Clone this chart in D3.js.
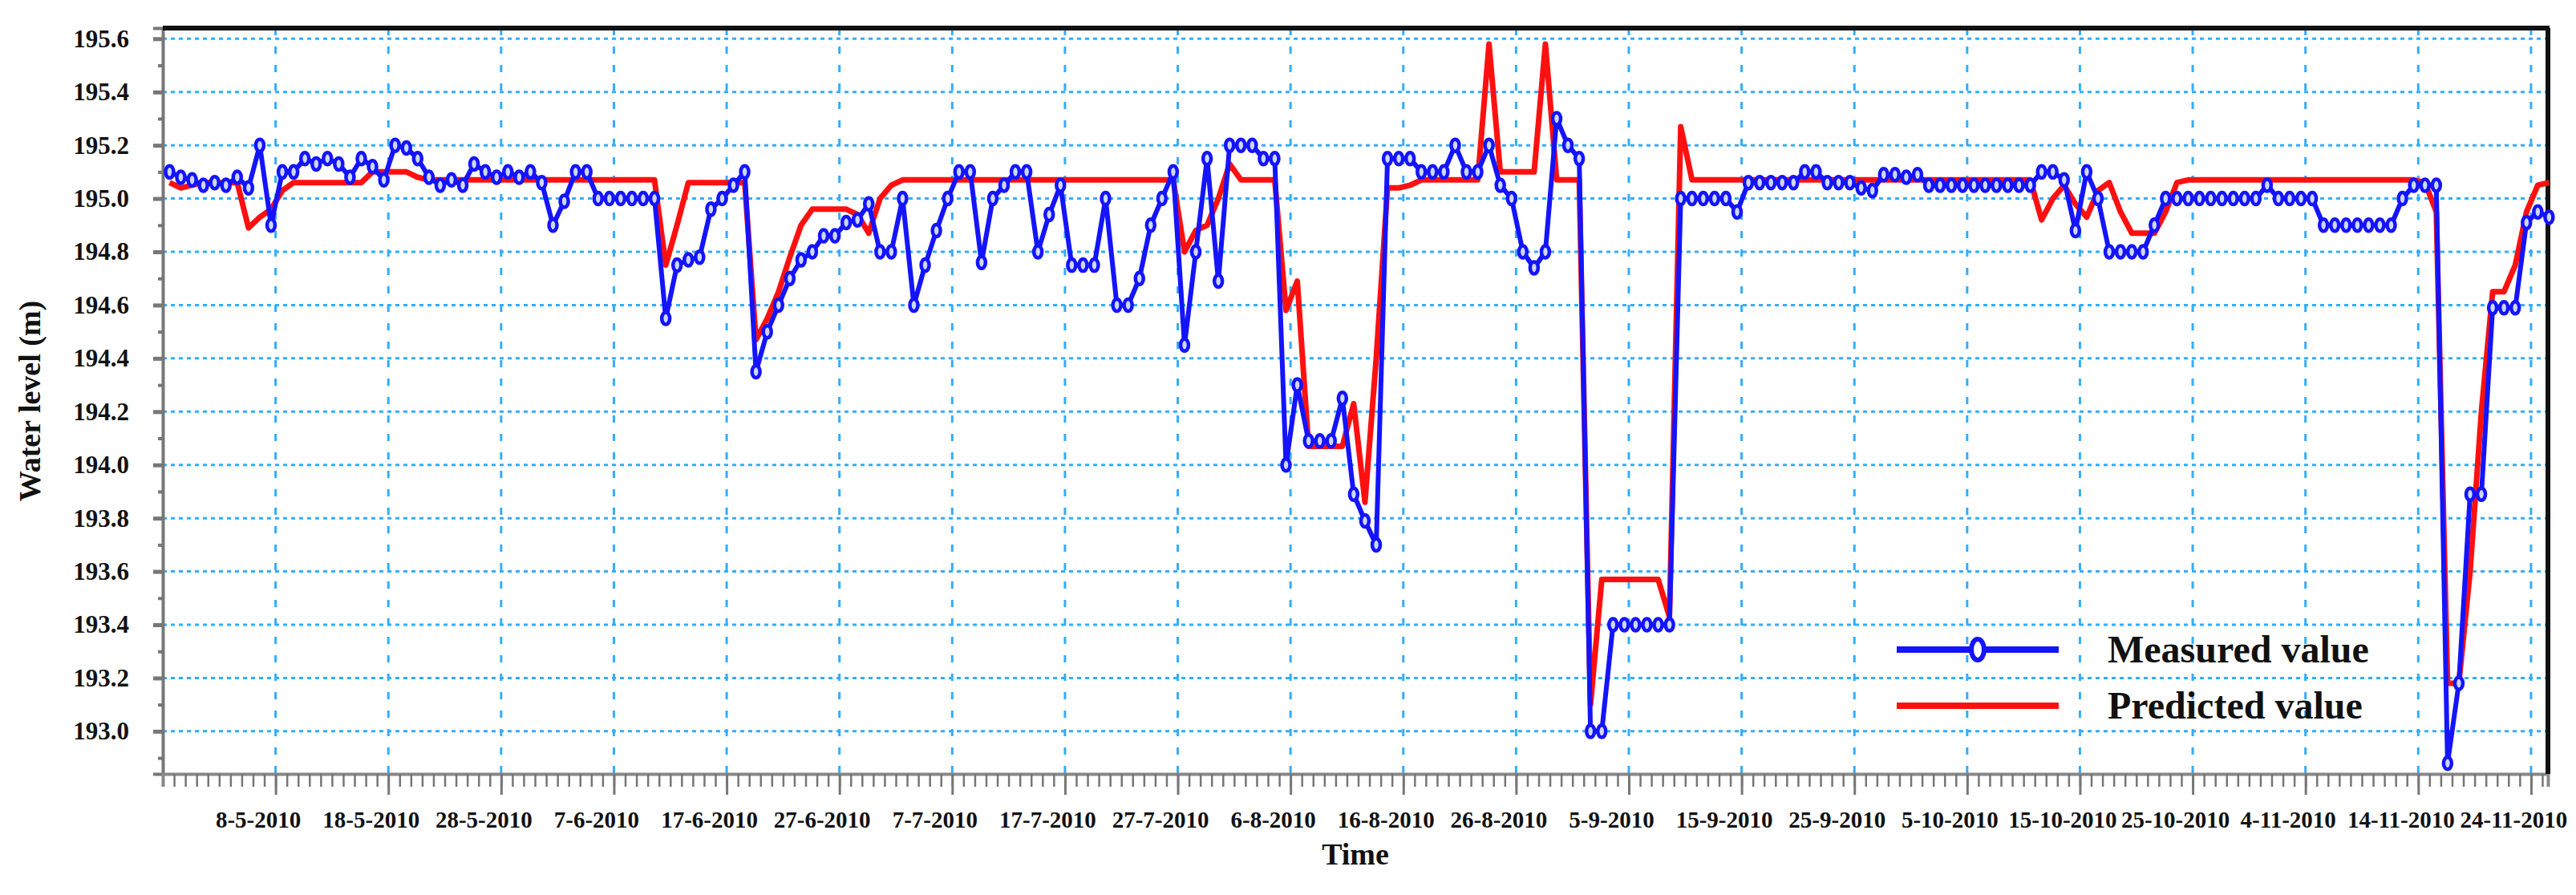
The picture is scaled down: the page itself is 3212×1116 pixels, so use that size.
<!DOCTYPE html>
<html>
<head>
<meta charset="utf-8">
<script src="https://cdn.jsdelivr.net/npm/d3@7"></script>
<style>
body { margin: 0; background: #fff; }
text { font-family: "Liberation Serif", "Times New Roman", serif; font-weight: bold; }
</style>
</head>
<body>
<div id="chart"></div>
<script>
// days counted from 28-4-2010, one reading per day
var firstDay = 0.6;
var measured = [
	195.10, 195.08, 195.07, 195.05, 195.06, 195.05, 195.08, 195.04, 195.20, 194.90,
	195.10, 195.10, 195.15, 195.13, 195.15, 195.13, 195.08, 195.15, 195.12, 195.07,
	195.20, 195.19, 195.15, 195.08, 195.05, 195.07, 195.05, 195.13, 195.10, 195.08,
	195.10, 195.08, 195.10, 195.06, 194.90, 194.99, 195.10, 195.10, 195.00, 195.00,
	195.00, 195.00, 195.00, 195.00, 194.55, 194.75, 194.77, 194.78, 194.96, 195.00,
	195.05, 195.10, 194.35, 194.50, 194.60, 194.70, 194.77, 194.80, 194.86, 194.86,
	194.91, 194.92, 194.98, 194.80, 194.80, 195.00, 194.60, 194.75, 194.88, 195.00,
	195.10, 195.10, 194.76, 195.00, 195.05, 195.10, 195.10, 194.80, 194.94, 195.05,
	194.75, 194.75, 194.75, 195.00, 194.60, 194.60, 194.70, 194.90, 195.00, 195.10,
	194.45, 194.80, 195.15, 194.69, 195.20, 195.20, 195.20, 195.15, 195.15, 194.00,
	194.30, 194.09, 194.09, 194.09, 194.25, 193.89, 193.79, 193.70, 195.15, 195.15,
	195.15, 195.10, 195.10, 195.10, 195.20, 195.10, 195.10, 195.20, 195.05, 195.00,
	194.80, 194.74, 194.80, 195.30, 195.20, 195.15, 193.00, 193.00, 193.40, 193.40,
	193.40, 193.40, 193.40, 193.40, 195.00, 195.00, 195.00, 195.00, 195.00, 194.95,
	195.06, 195.06, 195.06, 195.06, 195.06, 195.10, 195.10, 195.06, 195.06, 195.06,
	195.04, 195.03, 195.09, 195.09, 195.08, 195.09, 195.05, 195.05, 195.05, 195.05,
	195.05, 195.05, 195.05, 195.05, 195.05, 195.05, 195.10, 195.10, 195.07, 194.88,
	195.10, 195.00, 194.80, 194.80, 194.80, 194.80, 194.90, 195.00, 195.00, 195.00,
	195.00, 195.00, 195.00, 195.00, 195.00, 195.00, 195.05, 195.00, 195.00, 195.00,
	195.00, 194.90, 194.90, 194.90, 194.90, 194.90, 194.90, 194.90, 195.00, 195.05,
	195.05, 195.05, 192.88, 193.18, 193.89, 193.89, 194.59, 194.59, 194.59, 194.91,
	194.95, 194.93
];
var predicted = [
	195.06, 195.04, 195.05, 195.06, 195.06, 195.06, 195.06, 194.89, 194.93, 194.96,
	195.03, 195.06, 195.06, 195.06, 195.06, 195.06, 195.06, 195.06, 195.10, 195.10,
	195.10, 195.10, 195.08, 195.07, 195.07, 195.07, 195.07, 195.07, 195.07, 195.07,
	195.07, 195.07, 195.07, 195.07, 195.07, 195.07, 195.07, 195.07, 195.07, 195.07,
	195.07, 195.07, 195.07, 195.07, 194.75, 194.90, 195.06, 195.06, 195.06, 195.06,
	195.06, 195.06, 194.47, 194.55, 194.65, 194.78, 194.90, 194.96, 194.96, 194.96,
	194.96, 194.94, 194.87, 195.00, 195.05, 195.07, 195.07, 195.07, 195.07, 195.07,
	195.07, 195.07, 195.07, 195.07, 195.07, 195.07, 195.07, 195.07, 195.07, 195.07,
	195.07, 195.07, 195.07, 195.07, 195.07, 195.07, 195.07, 195.07, 195.07, 195.07,
	194.80, 194.88, 194.90, 195.00, 195.13, 195.07, 195.07, 195.07, 195.07, 194.58,
	194.69, 194.07, 194.07, 194.07, 194.07, 194.23, 193.86, 194.40, 195.04, 195.04,
	195.05, 195.07, 195.07, 195.07, 195.07, 195.07, 195.07, 195.58, 195.10, 195.10,
	195.10, 195.10, 195.58, 195.07, 195.07, 195.07, 193.10, 193.57, 193.57, 193.57,
	193.57, 193.57, 193.57, 193.43, 195.27, 195.07, 195.07, 195.07, 195.07, 195.07,
	195.07, 195.07, 195.07, 195.07, 195.07, 195.07, 195.07, 195.07, 195.07, 195.07,
	195.07, 195.07, 195.07, 195.07, 195.07, 195.07, 195.07, 195.07, 195.07, 195.07,
	195.07, 195.07, 195.07, 195.07, 195.07, 195.07, 194.92, 195.00, 195.05, 194.98,
	194.93, 195.03, 195.06, 194.95, 194.87, 194.87, 194.87, 194.95, 195.06, 195.07,
	195.07, 195.07, 195.07, 195.07, 195.07, 195.07, 195.07, 195.07, 195.07, 195.07,
	195.07, 195.07, 195.07, 195.07, 195.07, 195.07, 195.07, 195.07, 195.07, 195.07,
	195.06, 194.95, 193.18, 193.18, 193.60, 194.20, 194.65, 194.65, 194.75, 194.95,
	195.05, 195.06
];
var tickDays = [10, 20, 30, 40, 50, 60, 70, 80, 90, 100, 110, 120, 130, 140, 150, 160, 170, 180, 190, 200, 210];
var tickLabels = ["8-5-2010", "18-5-2010", "28-5-2010", "7-6-2010", "17-6-2010", "27-6-2010", "7-7-2010",
	"17-7-2010", "27-7-2010", "6-8-2010", "16-8-2010", "26-8-2010", "5-9-2010", "15-9-2010", "25-9-2010",
	"5-10-2010", "15-10-2010", "25-10-2010", "4-11-2010", "14-11-2010", "24-11-2010"];
var yTicks = [193.0, 193.2, 193.4, 193.6, 193.8, 194.0, 194.2, 194.4, 194.6, 194.8, 195.0, 195.2, 195.4, 195.6];

const W = 3212, H = 1116;
const mLeft = 203, mRight = 3177, mTop = 35, mBottom = 965;
const gridColor = "#33adff";

var svg = d3.select("#chart").append("svg").attr("width", W).attr("height", H);

var x = d3.scaleLinear().domain([0, 211.5]).range([mLeft, mRight]);
var y = d3.scaleLinear().domain([192.84, 195.64]).range([mBottom, mTop]);

// grid
svg.append("g").selectAll("line").data(yTicks).enter().append("line")
	.attr("x1", mLeft).attr("x2", mRight)
	.attr("y1", function(d){ return y(d); }).attr("y2", function(d){ return y(d); })
	.attr("stroke", gridColor).attr("stroke-width", 3).attr("stroke-dasharray", "5,5");
svg.append("g").selectAll("line").data(tickDays).enter().append("line")
	.attr("x1", function(d){ return x(d); }).attr("x2", function(d){ return x(d); })
	.attr("y1", mTop).attr("y2", mBottom)
	.attr("stroke", gridColor).attr("stroke-width", 3).attr("stroke-dasharray", "9,14");

// y axis
var yAxis = d3.axisLeft(y).tickValues(yTicks).tickFormat(d3.format(".1f")).tickSize(12).tickPadding(28);
var gy = svg.append("g").attr("transform", "translate(" + mLeft + ",0)").call(yAxis);
gy.select(".domain").attr("stroke", "#777").attr("stroke-width", 4);
gy.selectAll(".tick line").attr("stroke", "#777").attr("stroke-width", 5);
gy.selectAll("text").attr("font-size", 31).attr("fill", "#111").attr("text-anchor", "end").attr("dx", -2);
var yMinor = d3.axisLeft(y).tickValues(d3.range(192.9, 195.6, 0.2)).tickSize(6).tickFormat("");
svg.append("g").attr("transform", "translate(" + mLeft + ",0)").call(yMinor)
	.call(function(g){ g.select(".domain").remove(); g.selectAll("line").attr("stroke", "#777").attr("stroke-width", 4); });

// x axis
var xMinor = d3.axisBottom(x).tickValues(d3.range(1, 212, 1)).tickSize(16).tickFormat("");
svg.append("g").attr("transform", "translate(0," + mBottom + ")").call(xMinor)
	.call(function(g){ g.select(".domain").attr("stroke", "#888").attr("stroke-width", 4);
		g.selectAll("line").attr("stroke", "#777").attr("stroke-width", 2.5); });
var xAxis = d3.axisBottom(x).tickValues(tickDays).tickFormat(function(d, i){ return tickLabels[i]; }).tickSize(26).tickPadding(20);
var gx = svg.append("g").attr("transform", "translate(0," + mBottom + ")").call(xAxis);
gx.select(".domain").remove();
gx.selectAll(".tick line").attr("stroke", "#777").attr("stroke-width", 3);
gx.selectAll("text").attr("font-size", 29).attr("fill", "#111").attr("dx", -22);

// frame
svg.append("line").attr("x1", mLeft).attr("x2", mRight + 2).attr("y1", mTop).attr("y2", mTop)
	.attr("stroke", "#111").attr("stroke-width", 6);
svg.append("line").attr("x1", mRight).attr("x2", mRight).attr("y1", mTop).attr("y2", mBottom)
	.attr("stroke", "#111").attr("stroke-width", 6);

// series
var line = d3.line()
	.x(function(d, i){ return x(firstDay + i); })
	.y(function(d){ return y(d); });

svg.append("path").datum(predicted).attr("d", line)
	.attr("fill", "none").attr("stroke", "#ff1010").attr("stroke-width", 7).attr("stroke-linejoin", "round");
svg.append("path").datum(measured).attr("d", line)
	.attr("fill", "none").attr("stroke", "#1414ff").attr("stroke-width", 6).attr("stroke-linejoin", "round");
svg.append("g").selectAll("ellipse").data(measured).enter().append("ellipse")
	.attr("cx", function(d, i){ return x(firstDay + i); })
	.attr("cy", function(d){ return y(d); })
	.attr("rx", 5).attr("ry", 7.5)
	.attr("fill", "#cfd8ff").attr("stroke", "#1414ff").attr("stroke-width", 4.5);

// legend
var lg = svg.append("g");
lg.append("line").attr("x1", 2365).attr("x2", 2567).attr("y1", 810).attr("y2", 810)
	.attr("stroke", "#1414ff").attr("stroke-width", 8);
lg.append("ellipse").attr("cx", 2466).attr("cy", 810).attr("rx", 8).attr("ry", 13)
	.attr("fill", "#fff").attr("stroke", "#1414ff").attr("stroke-width", 6);
lg.append("line").attr("x1", 2365).attr("x2", 2567).attr("y1", 880).attr("y2", 880)
	.attr("stroke", "#ff1010").attr("stroke-width", 8);
lg.append("text").attr("x", 2628).attr("y", 826).attr("font-size", 48).attr("fill", "#111").text("Measured value");
lg.append("text").attr("x", 2628).attr("y", 896).attr("font-size", 48).attr("fill", "#111").text("Predicted value");

// titles
svg.append("text").attr("x", (mLeft + mRight) / 2).attr("y", 1078).attr("text-anchor", "middle")
	.attr("font-size", 38).attr("fill", "#111").text("Time");
svg.append("text").attr("transform", "translate(50," + (mTop + mBottom) / 2 + ") rotate(-90)")
	.attr("text-anchor", "middle").attr("font-size", 38).attr("fill", "#111").text("Water level (m)");
</script>
</body>
</html>
